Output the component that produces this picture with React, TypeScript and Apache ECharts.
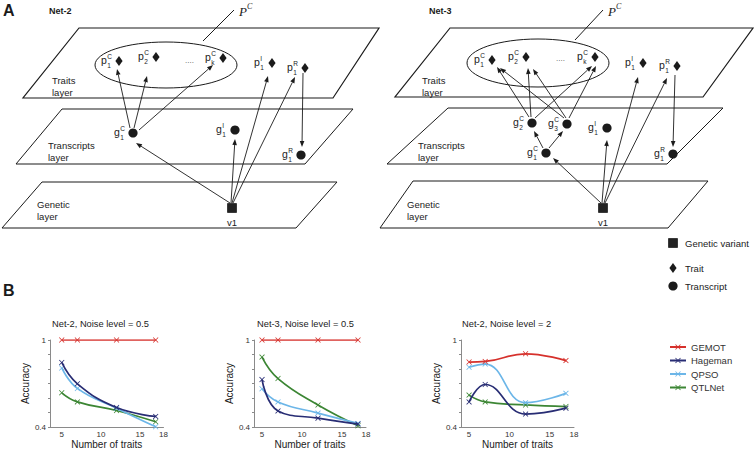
import React, { useEffect, useRef } from "react";
import * as echarts from "echarts";

// ---------------- chart data (panel B) ----------------
const seriesNames = ["GEMOT", "Hageman", "QPSO", "QTLNet"];
const seriesColors = ["#d6312c", "#282d74", "#6cb6e8", "#3c8634"];
const traitCounts = [5, 7, 12, 17];
const xTickLabels = [5, 10, 15, 18];
const yTickLabels = [0.4, 1];
const panelTitles = ["Net-2, Noise level = 0.5", "Net-3, Noise level = 0.5", "Net-2, Noise level = 2"];

const gemotNet2Low = [1, 1, 1, 1];
const hagemanNet2Low = [0.845, 0.698, 0.534, 0.473];
const qpsoNet2Low = [0.807, 0.666, 0.53, 0.402];
const qtlnetNet2Low = [0.636, 0.573, 0.514, 0.436];

const gemotNet3Low = [1, 1, 1, 1];
const hagemanNet3Low = [0.727, 0.511, 0.461, 0.42];
const qpsoNet3Low = [0.664, 0.573, 0.496, 0.425];
const qtlnetNet3Low = [0.882, 0.734, 0.552, 0.409];

const gemotNet2High = [0.848, 0.852, 0.905, 0.858];
const hagemanNet2High = [0.573, 0.693, 0.489, 0.53];
const qpsoNet2High = [0.812, 0.834, 0.568, 0.632];
const qtlnetNet2High = [0.62, 0.573, 0.552, 0.541];

const panelSeries = [
  [gemotNet2Low, hagemanNet2Low, qpsoNet2Low, qtlnetNet2Low],
  [gemotNet3Low, hagemanNet3Low, qpsoNet3Low, qtlnetNet3Low],
  [gemotNet2High, hagemanNet2High, qpsoNet2High, qtlnetNet2High],
];

// ---------------- diagram (panel A) ----------------
const net2Planes = [
  [[79, 28], [379, 28], [333, 98], [23, 98]],
  [[62, 109], [353, 109], [305, 164], [16, 164]],
  [[42, 182], [337, 182], [296, 228], [2, 228]],
];
const net3Planes = [
  [[450, 28], [753, 28], [703, 97], [395, 97]],
  [[448, 108], [723, 108], [667, 164], [387, 164]],
  [[413, 181], [708, 181], [668, 228], [380, 228]],
];
const net2Nodes = [
  ["diamond", 119, 61, "p", "C", "1"],
  ["diamond", 156, 57, "p", "C", "2"],
  ["diamond", 223, 58, "p", "C", "k"],
  ["diamond", 272, 63, "p", "I", "1"],
  ["diamond", 305, 68, "p", "R", "1"],
  ["circle", 133, 133, "g", "C", "1"],
  ["circle", 235, 130, "g", "I", "1"],
  ["circle", 301, 155, "g", "R", "1"],
  ["square", 232, 208, "v1", "", ""],
];
const net3Nodes = [
  ["diamond", 492, 60, "p", "C", "1"],
  ["diamond", 526, 57, "p", "C", "2"],
  ["diamond", 595, 57, "p", "C", "k"],
  ["diamond", 643, 63, "p", "I", "1"],
  ["diamond", 677, 66, "p", "R", "1"],
  ["circle", 532, 123, "g", "C", "2"],
  ["circle", 567, 124, "g", "C", "3"],
  ["circle", 607, 128, "g", "I", "1"],
  ["circle", 546, 153, "g", "C", "1"],
  ["circle", 673, 154, "g", "R", "1"],
  ["square", 603, 208, "v1", "", ""],
];
const net2Arrows = [
  [130, 128, 117, 69], [134, 128, 147, 76], [139, 130, 213, 65],
  [230, 203, 136, 143], [231, 203, 235, 139], [232, 203, 268, 76], [233, 203, 295, 77],
  [303, 73, 302, 147],
];
const net3Arrows = [
  [529, 117, 497, 67], [531, 117, 528, 68], [535, 118, 592, 66],
  [564, 118, 500, 68], [566, 118, 533, 69], [569, 118, 596, 66],
  [543, 148, 534, 131], [549, 148, 563, 131],
  [601, 203, 553, 158], [602, 203, 607, 140], [604, 203, 638, 77], [605, 203, 667, 78],
  [675, 75, 673, 147],
];

const FONT = "Liberation Sans, Arial, Helvetica, sans-serif";
const INK = "#1b1b1b";

function txt(x: number, y: number, text: string, size: number, extra: any = {}) {
  return {
    type: "text",
    x,
    y,
    silent: true,
    style: { text, fontSize: size, fontFamily: FONT, fill: INK, align: "left", verticalAlign: "middle", ...extra },
  };
}

function arrow(x1: number, y1: number, x2: number, y2: number) {
  const a = Math.atan2(y2 - y1, x2 - x1);
  const L = 6, W = 2.3;
  const bx = x2 - L * Math.cos(a), by = y2 - L * Math.sin(a);
  const px = -Math.sin(a) * W, py = Math.cos(a) * W;
  return [
    { type: "line", silent: true, shape: { x1, y1, x2: bx, y2: by }, style: { stroke: INK, lineWidth: 0.9 } },
    { type: "polygon", silent: true, shape: { points: [[x2, y2], [bx + px, by + py], [bx - px, by - py]] }, style: { fill: INK } },
  ];
}

function marker(kind: string, x: number, y: number) {
  if (kind === "diamond")
    return { type: "polygon", silent: true, shape: { points: [[x, y - 5], [x + 3.6, y], [x, y + 5], [x - 3.6, y]] }, style: { fill: INK } };
  if (kind === "circle") return { type: "circle", silent: true, shape: { cx: x, cy: y, r: 4.6 }, style: { fill: INK } };
  return { type: "rect", silent: true, shape: { x: x - 4.5, y: y - 4.5, width: 9, height: 9 }, style: { fill: "#222", stroke: "#000", lineWidth: 0.6 } };
}

function nodeEls(n: any[]) {
  const [kind, x, y, base, sup, sub] = n;
  const els: any[] = [marker(kind, x, y)];
  if (kind === "square") {
    els.push(txt(x, y + 14, base, 9.5, { align: "center" }));
  } else {
    const lx = x - (kind === "diamond" ? 18 : 19);
    els.push(txt(lx, y - 1, base, 10.5));
    els.push(txt(lx + 6.3, y - 5, sup, 6.5));
    els.push(txt(lx + 6.3, y + 4, sub, 6.5));
  }
  return els;
}

function diagram(planes: number[][][], nodes: any[][], arrows: number[][], ell: number[], pc: number[], title: string, titleX: number, dotsX: number, dotsY: number, labelX: number) {
  const els: any[] = [];
  planes.forEach((p, i) => els.push({ type: "polygon", silent: true, shape: { points: p }, style: { fill: "none", stroke: INK, lineWidth: i === 0 ? 1.2 : 1 } }));
  els.push({ type: "ellipse", silent: true, shape: { cx: ell[0], cy: ell[1], rx: ell[2], ry: ell[3] }, style: { fill: "none", stroke: INK, lineWidth: 1 } });
  els.push({ type: "line", silent: true, shape: { x1: pc[0], y1: pc[1], x2: pc[2], y2: pc[3] }, style: { stroke: INK, lineWidth: 1 } });
  els.push(txt(pc[0] + 5, 11, "P", 13, { fontFamily: "Liberation Serif, DejaVu Serif, serif", fontStyle: "italic" }));
  els.push(txt(pc[0] + 13, 6, "C", 8, { fontFamily: "Liberation Serif, DejaVu Serif, serif", fontStyle: "italic" }));
  els.push(txt(titleX, 10.5, title, 9, { fontWeight: "bold" }));
  els.push(txt(dotsX, dotsY, "....", 8, { fill: "#555" }));
  els.push(txt(labelX, 80, "Traits", 9.5));
  els.push(txt(labelX, 92, "layer", 9.5));
  els.push(txt(labelX - 4, 145, "Transcripts", 9.5));
  els.push(txt(labelX - 4, 157, "layer", 9.5));
  els.push(txt(labelX - 15, 204, "Genetic", 9.5));
  els.push(txt(labelX - 15, 216, "layer", 9.5));
  arrows.forEach((a) => els.push(...arrow(a[0], a[1], a[2], a[3])));
  nodes.forEach((n) => els.push(...nodeEls(n)));
  return els;
}

function buildGraphic() {
  const els: any[] = [];
  els.push(txt(3, 10, "A", 16, { fontWeight: "bold" }));
  els.push(txt(3, 290, "B", 16, { fontWeight: "bold" }));
  els.push(...diagram(net2Planes, net2Nodes, net2Arrows, [166, 65, 71, 23], [234, 10, 203, 41], "Net-2", 49, 185, 60, 52));
  els.push(...diagram(net3Planes, net3Nodes, net3Arrows, [538, 63, 71, 24], [603, 10, 575, 40], "Net-3", 429, 556, 58, 422));
  // legend for the diagram
  els.push(marker("square", 673, 243));
  els.push(marker("diamond", 673, 268));
  els.push(marker("circle", 673, 286));
  els.push(txt(685, 243, "Genetic variant", 9.5));
  els.push(txt(685, 268, "Trait", 9.5));
  els.push(txt(685, 286, "Transcript", 9.5));
  return els;
}

const X_SYMBOL = "path://M1,0L5,4L9,0L10,1L6,5L10,9L9,10L5,6L1,10L0,9L4,5L0,1Z";
const panelLayout = [
  { left: 50, width: 113.5, xMin: 3.5, titleLeft: 52 },
  { left: 254, width: 112, xMin: 4, titleLeft: 257 },
  { left: 461, width: 113, xMin: 4, titleLeft: 462 },
];

export default function App() {
  const ref = useRef<HTMLDivElement>(null);
  useEffect(() => {
    if (!ref.current) return;
    const chart = echarts.init(ref.current, undefined, { renderer: "svg" });
    const axisColor = "#8a8a8a";
    const option: any = {
      animation: false,
      backgroundColor: "#ffffff",
      textStyle: { fontFamily: FONT },
      title: panelLayout.map((p, i) => ({
        text: panelTitles[i],
        left: p.titleLeft,
        top: 319,
        padding: 0,
        textStyle: { fontSize: 9.3, fontWeight: "normal", color: "#222", fontFamily: FONT },
      })),
      legend: {
        orient: "vertical",
        left: 664,
        top: 337,
        itemWidth: 16,
        itemHeight: 7,
        itemGap: 3.5,
        data: seriesNames,
        textStyle: { fontSize: 9.5, color: "#333", lineHeight: 10, fontFamily: FONT },
      },
      grid: panelLayout.map((p) => ({ left: p.left, top: 340, width: p.width, height: 88, containLabel: false })),
      xAxis: panelLayout.map((p, i) => ({
        type: "value",
        gridIndex: i,
        min: p.xMin,
        max: 18,
        name: "Number of traits",
        nameLocation: "middle",
        nameGap: 12,
        nameTextStyle: { fontSize: 10, color: "#222", verticalAlign: "top" },
        axisLine: { show: true, lineStyle: { color: axisColor, width: 1 } },
        axisTick: { show: false },
        splitLine: { show: false },
        axisLabel: { customValues: xTickLabels, fontSize: 8, color: "#333", margin: 3 },
      })),
      yAxis: panelLayout.map((p, i) => ({
        type: "value",
        gridIndex: i,
        min: 0.4,
        max: 1,
        interval: 0.1,
        name: "Accuracy",
        nameLocation: "middle",
        nameGap: 8,
        nameTextStyle: { fontSize: 10, color: "#222" },
        axisLine: { show: true, lineStyle: { color: axisColor, width: 1 } },
        axisTick: { show: true, length: 2, lineStyle: { color: axisColor } },
        splitLine: { show: false },
        axisLabel: { customValues: yTickLabels, fontSize: 8, color: "#333", margin: 4, formatter: (v: number) => String(v) },
      })),
      graphic: { elements: buildGraphic() },
      series: panelSeries.flatMap((group, i) =>
        group.map((vals, k) => ({
          name: seriesNames[k],
          type: "line",
          xAxisIndex: i,
          yAxisIndex: i,
          smooth: 0.45,
          symbol: X_SYMBOL,
          symbolSize: 5.5,
          showSymbol: true,
          lineStyle: { width: 1.7, color: seriesColors[k] },
          itemStyle: { color: seriesColors[k] },
          data: traitCounts.map((x, j) => [x, vals[j]]),
          z: 10 - k,
        }))
      ),
    };
    chart.setOption(option);
    return () => chart.dispose();
  }, []);
  return <div ref={ref} style={{ position: "fixed", left: 0, top: 0, width: 755, height: 450 }} />;
}
